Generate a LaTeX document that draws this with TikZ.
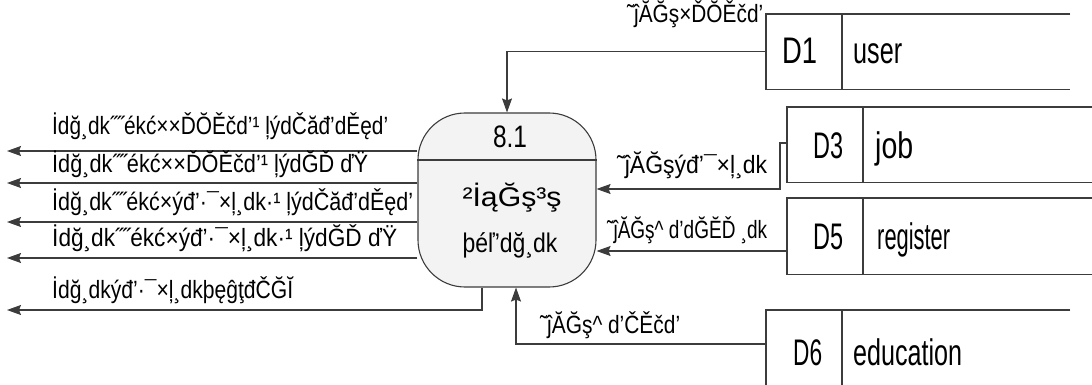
\documentclass[tikz,border=0pt]{standalone}
\usepackage{fontspec}
\setmainfont{Liberation Sans}
\usetikzlibrary{arrows.meta}
\definecolor{ln}{HTML}{3C3C3C}
\definecolor{boxfill}{HTML}{F3F3F3}
\newcommand{\fitw}[2]{\resizebox{#1pt}{\height}{#2}}
\tikzset{
  ln/.style={draw=ln, line width=1.1pt},
  arr/.style={ln, -{Stealth[length=14pt,width=10pt,inset=2pt]}},
  lbl/.style={inner sep=0pt, anchor=base west, font=\fontsize{25}{28}\selectfont},
  big/.style={inner sep=0pt, anchor=base west, font=\fontsize{37}{40}\selectfont},
  store/.style={inner sep=0pt, draw=none, anchor=north west},
}
\begin{document}
\begin{tikzpicture}[x=1pt,y=-1pt]
\useasboundingbox (0,0) rectangle (1092,385);

% process
\node[ln, fill=boxfill, rounded corners=47pt, minimum width=178pt, minimum height=174pt, inner sep=0pt] (p) at (507,200) {};
\draw[ln] (p.west |- 0,160) -- (p.east |- 0,160);
\node[lbl, font=\fontsize{31}{34}\selectfont, anchor=base] (pid) at (510,148) {\fitw{34}{8.1}};
\node[lbl, font=\fontsize{27}{30}\selectfont, anchor=base] (pn1) at (512,207) {\fitw{99}{²İąĞş³ş}};
\node[lbl, font=\fontsize{27}{30}\selectfont, anchor=base] (pn2) at (510,252) {\fitw{95}{þéľ'dğ¸dk}};

% stores
\node[store, minimum width=304pt, minimum height=75pt] (d1) at (766,14) {};
\draw[ln] (d1.north east) -- (d1.north west) -- (d1.south west) -- (d1.south east);
\draw[ln] ([xshift=76pt]d1.north west) -- ([xshift=76pt]d1.south west);
\node[big] (d1a) at (782,64) {\fitw{35}{D1}};
\node[big] (d1b) at (853,64) {\fitw{49}{user}};

\node[store, minimum width=305pt, minimum height=75pt] (d3) at (787,107) {};
\draw[ln] (d3.north east) -- (d3.north west) -- (d3.south west) -- (d3.south east);
\draw[ln] ([xshift=76pt]d3.north west) -- ([xshift=76pt]d3.south west);
\node[big] (d3a) at (813,158) {\fitw{30}{D3}};
\node[big] (d3b) at (875,158) {\fitw{38}{job}};

\node[store, minimum width=305pt, minimum height=76pt] (d5) at (787,198) {};
\draw[ln] (d5.north east) -- (d5.north west) -- (d5.south west) -- (d5.south east);
\draw[ln] ([xshift=76pt]d5.north west) -- ([xshift=76pt]d5.south west);
\node[big] (d5a) at (813,249) {\fitw{30}{D5}};
\node[big] (d5b) at (877,249) {\fitw{73}{register}};

\node[store, minimum width=304pt, minimum height=75pt] (d6) at (766,310) {};
\draw[ln] (d6.north east) -- (d6.north west) -- (d6.south west);
\draw[ln] ([xshift=76pt]d6.north west) -- ([xshift=76pt]d6.south west);
\node[big] (d6a) at (793,365) {\fitw{29}{D6}};
\node[big] (d6b) at (853,365) {\fitw{109}{education}};

% inputs
\draw[arr] (d1.west) -| (p.north);
\node[lbl] (l1) at (627,23) {\fitw{136}{˜ĵĂĞş×ĎŎĚčd'}};
\draw[arr] (d3.west |- 0,143) -- ++(-7,0) |- (p.east |- 0,189);
\node[lbl] (l3) at (617,173) {\fitw{150}{˜ĵĂĞşýđ'¯×ļ¸dk}};
\draw[arr] (d5.west |- 0,251) -- (p.east |- 0,251);
\node[lbl] (l5) at (607,238) {\fitw{160}{˜ĵĂĞş\textasciicircum\ d'dĞĔĎ ¸dk}};
\draw[arr] (d6.west |- 0,344) -| (p.south -| 516,0);
\node[lbl] (l6) at (540,333) {\fitw{140}{˜ĵĂĞş\textasciicircum\ d'ČĚčd'}};

% outputs
\coordinate (e1) at (7,151);
\coordinate (e2) at (7,183);
\coordinate (e3) at (7,222);
\coordinate (e4) at (7,258);
\coordinate (e5) at (7,310);
\draw[arr] (p.west |- e1) -- (e1);
\draw[arr] (p.west |- e2) -- (e2);
\draw[arr] (p.west |- e3) -- (e3);
\draw[arr] (p.west |- e4) -- (e4);
\draw[arr] (p.south -| 482,0) |- (e5);
\node[lbl] (o1) at (52,135) {\fitw{336}{İdğ¸dk˝˝ékć××ĎŎĚčd'¹ ļýdČăđ'dĚęd'}};
\node[lbl] (o2) at (52,172) {\fitw{316}{İdğ¸dk˝˝ékć××ĎŎĚčd'¹ ļýdĞĎ ďŸ}};
\node[lbl] (o3) at (52,210) {\fitw{361}{İdğ¸dk˝˝ékć×ýđ'·¯×ļ¸dk·¹ ļýdČăđ'dĚęd'}};
\node[lbl] (o4) at (52,246) {\fitw{345}{İdğ¸dk˝˝ékć×ýđ'·¯×ļ¸dk·¹ ļýdĞĎ ďŸ}};
\node[lbl] (o5) at (52,298) {\fitw{241}{İdğ¸dkýđ'·¯×ļ¸dkþęĝţđČĞĬ}};
\end{tikzpicture}
\end{document}
